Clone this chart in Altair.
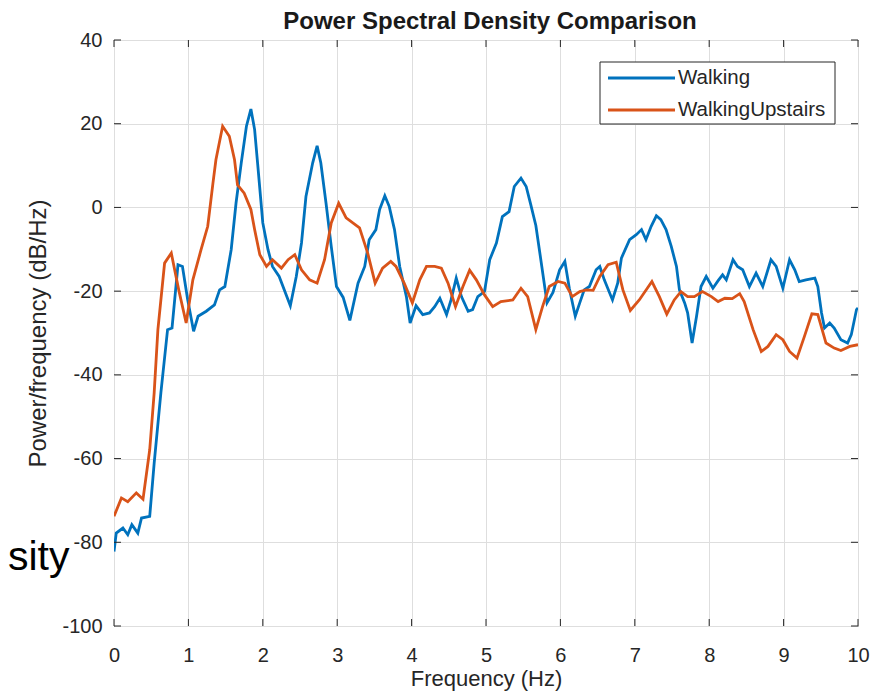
import altair as alt
import pandas as pd

# ---------------- data ----------------
freq_walking = [0.00, 0.03, 0.12, 0.185, 0.24, 0.32, 0.37, 0.48, 0.54, 0.63, 0.72, 0.78, 0.86, 0.92, 0.99,
                1.07, 1.13, 1.24, 1.35, 1.42, 1.49, 1.575, 1.64, 1.71, 1.78, 1.84, 1.89, 1.93, 2.00, 2.07,
                2.13, 2.22, 2.37, 2.45, 2.52, 2.58, 2.67, 2.73, 2.78, 2.85, 2.92, 2.99, 3.08, 3.17, 3.28,
                3.37, 3.43, 3.52, 3.57, 3.64, 3.70, 3.77, 3.84, 3.93, 3.98, 4.06, 4.15, 4.24, 4.31, 4.38,
                4.47, 4.53, 4.60, 4.67, 4.76, 4.82, 4.89, 4.98, 5.05, 5.14, 5.22, 5.31, 5.38, 5.47, 5.54,
                5.60, 5.67, 5.75, 5.82, 5.90, 5.99, 6.06, 6.12, 6.20, 6.26, 6.32, 6.39, 6.48, 6.53, 6.59,
                6.70, 6.77, 6.82, 6.93, 7.02, 7.09, 7.15, 7.22, 7.29, 7.35, 7.42, 7.49, 7.56, 7.60, 7.67,
                7.71, 7.77, 7.83, 7.89, 7.96, 8.05, 8.12, 8.18, 8.23, 8.32, 8.38, 8.45, 8.54, 8.63, 8.72,
                8.83, 8.90, 8.99, 9.08, 9.15, 9.21, 9.30, 9.42, 9.46, 9.51, 9.55, 9.62, 9.68, 9.77, 9.86,
                9.91, 9.98, 10.0]
psd_walking = [-82.2, -77.8, -76.6, -78.2, -75.8, -77.8, -74.2, -73.8, -61.1, -44.3, -29.2, -28.8, -13.7, -14.1, -22.0,
               -29.6, -26.0, -24.8, -23.3, -19.7, -18.9, -10.1, 1.0, 10.6, 19.4, 23.5, 18.6, 10.6, -3.7, -10.1,
               -14.1, -16.5, -23.5, -16.5, -8.5, 2.6, 10.6, 14.7, 10.6, 1.0, -9.3, -18.9, -21.5, -27.0, -18.1,
               -14.1, -7.7, -5.3, -0.5, 2.8, 0.2, -5.3, -14.1, -21.3, -27.6, -23.5, -25.6, -25.2, -23.7, -21.7,
               -25.6, -22.1, -16.9, -21.3, -24.8, -24.4, -21.3, -20.1, -12.5, -8.5, -2.2, -1.0, 5.0, 7.0, 5.0,
               0.8, -4.3, -14.1, -22.8, -20.3, -14.9, -12.9, -19.3, -26.0, -22.8, -19.7, -18.9, -14.9, -14.1, -17.3,
               -22.1, -18.1, -12.1, -7.7, -6.5, -5.3, -7.7, -4.5, -2.0, -2.9, -5.3, -9.3, -14.1, -19.7, -22.8,
               -25.2, -32.4, -26.0, -18.9, -16.5, -19.3, -17.5, -16.1, -17.3, -12.5, -14.1, -14.9, -18.9, -15.7, -18.9,
               -12.5, -14.1, -19.3, -12.5, -14.9, -17.7, -17.3, -16.9, -18.9, -25.2, -28.8, -27.6, -28.8, -31.6, -32.4,
               -30.4, -24.4, -24.0]

freq_upstairs = [0.00, 0.10, 0.185, 0.30, 0.39, 0.48, 0.54, 0.59, 0.68, 0.77, 0.87, 0.97, 1.06, 1.17, 1.26,
                 1.33, 1.37, 1.46, 1.55, 1.62, 1.66, 1.75, 1.84, 1.89, 1.96, 2.05, 2.13, 2.25, 2.34, 2.43,
                 2.52, 2.63, 2.73, 2.83, 2.92, 3.02, 3.12, 3.30, 3.41, 3.51, 3.61, 3.72, 3.79, 3.90, 4.01,
                 4.11, 4.20, 4.31, 4.40, 4.49, 4.59, 4.69, 4.78, 4.87, 4.98, 5.09, 5.20, 5.36, 5.47, 5.56,
                 5.67, 5.76, 5.85, 5.97, 6.06, 6.16, 6.26, 6.35, 6.44, 6.53, 6.64, 6.75, 6.84, 6.94, 7.06,
                 7.23, 7.33, 7.43, 7.53, 7.62, 7.71, 7.80, 7.91, 8.03, 8.12, 8.21, 8.31, 8.41, 8.47, 8.59,
                 8.70, 8.79, 8.90, 8.99, 9.08, 9.18, 9.28, 9.38, 9.46, 9.57, 9.68, 9.77, 9.89, 10.0]
psd_upstairs = [-73.8, -69.4, -70.3, -68.2, -69.7, -57.9, -44.3, -29.2, -13.3, -10.9, -19.7, -27.6, -17.3, -10.1, -4.5,
                5.8, 11.4, 19.4, 17.0, 11.4, 5.4, 3.4, -0.5, -5.3, -11.3, -14.1, -12.5, -14.5, -12.5, -11.3,
                -14.9, -17.3, -18.1, -12.5, -3.7, 1.0, -2.5, -4.9, -10.9, -18.1, -14.5, -12.9, -14.1, -18.1, -22.8,
                -17.3, -14.1, -14.1, -14.5, -18.1, -23.7, -18.9, -15.0, -17.3, -20.9, -23.7, -22.5, -22.1, -19.3, -21.3,
                -29.2, -23.7, -18.9, -17.7, -18.1, -21.3, -20.1, -19.7, -19.8, -16.5, -13.7, -13.1, -19.7, -24.6, -22.1,
                -17.7, -21.3, -25.5, -22.1, -20.1, -21.3, -21.3, -20.1, -21.3, -22.5, -21.7, -21.8, -20.6, -22.5, -29.2,
                -34.4, -33.2, -30.4, -31.6, -34.4, -36.0, -30.8, -25.4, -25.6, -32.4, -33.6, -34.2, -33.2, -32.8]

series_names = ["Walking", "WalkingUpstairs"]
series_colors = ["#0072BD", "#D95319"]
x_ticks = [0, 1, 2, 3, 4, 5, 6, 7, 8, 9, 10]
y_ticks = [-100, -80, -60, -40, -20, 0, 20, 40]
title_text = "Power Spectral Density Comparison"
x_title = "Frequency (Hz)"
y_title = "Power/frequency (dB/Hz)"
slide_fragment = "sity"

# ---------------- build tables ----------------
df = pd.concat([
    pd.DataFrame({"f": freq_walking, "db": psd_walking, "series": series_names[0]}),
    pd.DataFrame({"f": freq_upstairs, "db": psd_upstairs, "series": series_names[1]}),
], ignore_index=True)

W, H = 744, 586
FONT = "Liberation Sans"
AX = "#262626"
TICK_LEN = 7
HYPHEN_LABEL = "datum.value < 0 ? '-' + abs(datum.value) : '' + datum.value"

xs = alt.Scale(domain=[0, 10], nice=False, zero=False)
ys = alt.Scale(domain=[-100, 40], nice=False, zero=False)

lines = alt.Chart(df).mark_line(strokeWidth=2.8, clip=True).encode(
    x=alt.X("f:Q", scale=xs, axis=alt.Axis(
        values=x_ticks, labelExpr=HYPHEN_LABEL, title=x_title, labelFontSize=20, labelFont=FONT,
        labelColor=AX, titleFont=FONT, titleFontSize=22, titleFontWeight="normal",
        titleColor=AX, tickSize=0, domain=False, grid=True, gridColor="#dedede",
        gridWidth=1, labelPadding=19, titlePadding=3, labelFlush=False)),
    y=alt.Y("db:Q", scale=ys, axis=alt.Axis(
        values=y_ticks, labelExpr=HYPHEN_LABEL, title=y_title, labelFontSize=20, labelFont=FONT,
        labelColor=AX, titleFont=FONT, titleFontSize=24, titleFontWeight="normal",
        titleColor=AX, tickSize=0, domain=False, grid=True, gridColor="#dedede",
        gridWidth=1, labelPadding=12, titlePadding=11, labelFlush=False)),
    color=alt.Color("series:N", scale=alt.Scale(domain=series_names, range=series_colors), legend=None),
)

xt = pd.DataFrame({"t": x_ticks})
yt = pd.DataFrame({"t": y_ticks})
ticks = [
    alt.Chart(xt).mark_rule(color=AX, strokeWidth=1).encode(
        x=alt.X("t:Q", scale=xs), y=alt.value(H), y2=alt.value(H - TICK_LEN)),
    alt.Chart(xt).mark_rule(color=AX, strokeWidth=1).encode(
        x=alt.X("t:Q", scale=xs), y=alt.value(0), y2=alt.value(TICK_LEN)),
    alt.Chart(yt).mark_rule(color=AX, strokeWidth=1).encode(
        y=alt.Y("t:Q", scale=ys), x=alt.value(0), x2=alt.value(TICK_LEN)),
    alt.Chart(yt).mark_rule(color=AX, strokeWidth=1).encode(
        y=alt.Y("t:Q", scale=ys), x=alt.value(W), x2=alt.value(W - TICK_LEN)),
]

# legend box (MATLAB style, top right inside the axes)
LX0, LX1, LY0, LY1 = 486, 721, 22, 84
legend_box = alt.Chart(pd.DataFrame({"k": [0]})).mark_rect(
    fill="white", stroke=AX, strokeWidth=1).encode(
    x=alt.value(LX0), x2=alt.value(LX1), y=alt.value(LY0), y2=alt.value(LY1))
legend_layers = []
for i, (name, col) in enumerate(zip(series_names, series_colors)):
    yy = 38 + 32 * i
    d = pd.DataFrame({"label": [name]})
    legend_layers.append(alt.Chart(d).mark_rule(color=col, strokeWidth=2.8).encode(
        x=alt.value(494), x2=alt.value(561), y=alt.value(yy)))
    legend_layers.append(alt.Chart(d).mark_text(
        font=FONT, fontSize=20.5, color=AX, align="left", baseline="middle").encode(
        text="label:N", x=alt.value(564), y=alt.value(yy)))

# chart title as a text mark so it sits just above the axes box
title_layer = alt.Chart(pd.DataFrame({"t": [title_text]})).mark_text(
    font=FONT, fontSize=24, fontWeight="bold", color="#1a1a1a", align="center",
    baseline="middle").encode(text="t:N", x=alt.value(W / 2 + 4), y=alt.value(-18))

fragment = alt.Chart(pd.DataFrame({"s": [slide_fragment]})).mark_text(
    font=FONT, fontSize=41, color="black", align="left", baseline="alphabetic").encode(
    text="s:N", x=alt.value(-106), y=alt.value(530))

chart = alt.layer(lines, *ticks, legend_box, *legend_layers, title_layer, fragment).properties(
    width=W, height=H,
    padding={"left": 106, "top": 32, "right": 22, "bottom": 65},
    autosize="none",
    background="white",
).configure_view(stroke=AX, strokeWidth=1)

chart.save("out.html", embed_options={"renderer": "svg", "actions": False})
